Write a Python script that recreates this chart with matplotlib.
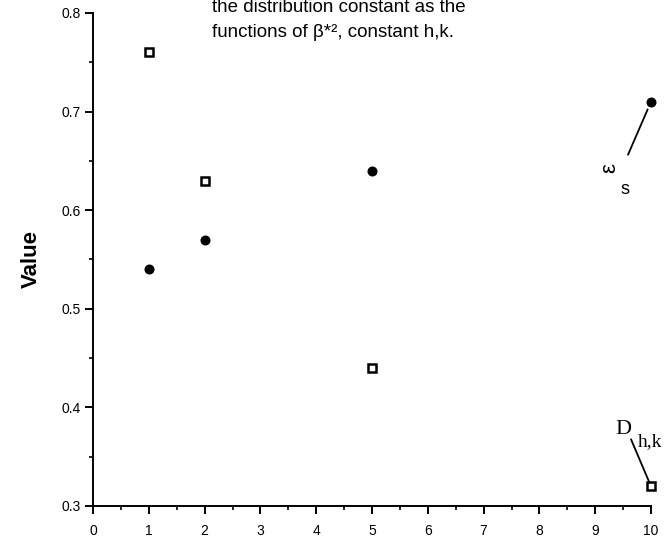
import matplotlib
matplotlib.use("Agg")
import matplotlib.pyplot as plt
from matplotlib.ticker import MultipleLocator

plt.rcParams['font.family'] = ['Liberation Sans', 'DejaVu Sans']

# beta*^2 values and the two series
x_vals = [1, 2, 5, 10]
d_hk = [0.76, 0.63, 0.44, 0.32]     # open squares
eps_s = [0.54, 0.57, 0.64, 0.71]    # filled dots

fig = plt.figure(figsize=(6.7, 5.38), dpi=100)
ax = fig.add_axes([93/670, 1-506/538, (651-93)/670, (506-13)/538])

ax.plot(x_vals, d_hk, 's', ms=5.5, mfc='white', mec='black', mew=1.8, clip_on=False)
ax.plot(x_vals, eps_s, 'o', ms=6.2, color='black', clip_on=False)

ax.set_xlim(0, 10)
ax.set_ylim(0.3, 0.8)
ax.xaxis.set_major_locator(MultipleLocator(1))
ax.xaxis.set_minor_locator(MultipleLocator(0.5))
ax.yaxis.set_major_locator(MultipleLocator(0.1))
ax.yaxis.set_minor_locator(MultipleLocator(0.05))
ax.set_xticklabels([str(int(v)) for v in ax.get_xticks()])
ax.tick_params(which='major', direction='out', length=6, width=1.4, labelsize=10)
ax.tick_params(which='minor', direction='out', length=3, width=1.2)
ax.tick_params(axis='x', pad=7)
ax.tick_params(axis='y', pad=3)
for s in ['top', 'right']:
    ax.spines[s].set_visible(False)
for s in ['left', 'bottom']:
    ax.spines[s].set_linewidth(1.4)

ax.set_ylabel("Value", fontsize=16, weight='bold', labelpad=14)

# heading, partly cut off at the top
fig.text(212/670, 1-12/538, "the distribution constant as the", fontsize=13.5,
         va='baseline')
fig.text(212/670, 1-37/538, "functions of β*², constant h,k.", fontsize=13.5,
         va='baseline')

# label for the dot series
ax.annotate('', xy=(x_vals[-1], eps_s[-1]), xytext=(-23, -53), textcoords='offset pixels',
            arrowprops=dict(arrowstyle='-', lw=1.3, color='black', shrinkA=0, shrinkB=6))
ax.annotate('ε', xy=(x_vals[-1], eps_s[-1]), xytext=(-41, -66), textcoords='offset pixels',
            ha='center', va='center', fontsize=16, rotation=90)
ax.annotate('s', xy=(x_vals[-1], eps_s[-1]), xytext=(-26, -88), textcoords='offset pixels',
            ha='center', va='center', fontsize=13)

# label for the square series
ax.annotate('', xy=(x_vals[-1], d_hk[-1]), xytext=(-20, 47), textcoords='offset pixels',
            arrowprops=dict(arrowstyle='-', lw=1.3, color='black', shrinkA=0, shrinkB=3))
ax.annotate('D', xy=(x_vals[-1], d_hk[-1]), xytext=(-28, 57), textcoords='offset pixels',
            ha='center', va='center', fontsize=16, family='Liberation Serif', annotation_clip=False)
ax.annotate('h,k', xy=(x_vals[-1], d_hk[-1]), xytext=(-13, 45), textcoords='offset pixels',
            ha='left', va='center', fontsize=14, family='Liberation Serif', annotation_clip=False)

fig.savefig("out.png", dpi=100)
